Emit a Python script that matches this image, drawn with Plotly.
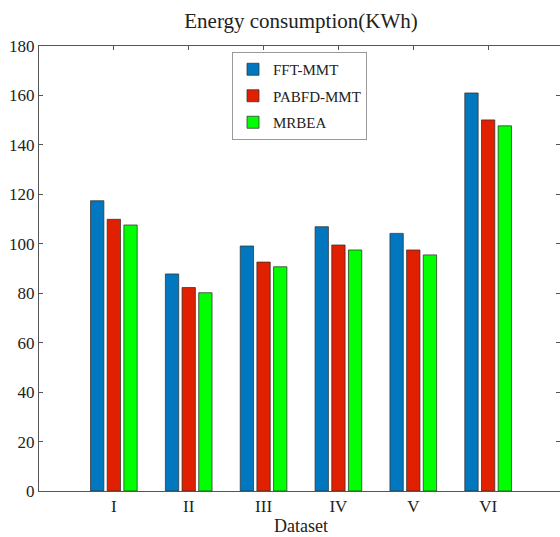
import plotly.graph_objects as go

categories = ["I", "II", "III", "IV", "V", "VI"]
positions = [1, 2, 3, 4, 5, 6]
fft_mmt = [117.4, 87.8, 99.1, 106.9, 104.2, 161.0]
pabfd_mmt = [109.9, 82.3, 92.6, 99.5, 97.5, 150.1]
mrbea = [107.6, 80.2, 90.7, 97.5, 95.5, 147.7]
y_ticks = [0, 20, 40, 60, 80, 100, 120, 140, 160, 180]

series = [
    ("FFT-MMT", fft_mmt, "#0077BE"),
    ("PABFD-MMT", pabfd_mmt, "#E02000"),
    ("MRBEA", mrbea, "#00FF00"),
]

FONT = "Liberation Serif"
L, T, B = 39, 46, 46
PW = 560 - L
PH = 537 - T - B

fig = go.Figure()
for name, vals, col in series:
    fig.add_trace(go.Bar(
        x=positions, y=vals, name=name, legendgroup=name,
        marker=dict(color=col, line=dict(color="rgba(50,50,50,0.75)", width=1)),
    ))

# invisible trace for the top/right mirrored inside ticks
fig.add_trace(go.Scatter(x=[None], y=[None], xaxis="x2", yaxis="y2",
                         showlegend=False, hoverinfo="skip"))

fig.update_layout(
    width=560, height=537,
    margin=dict(l=L, r=0, t=T, b=B),
    paper_bgcolor="white", plot_bgcolor="white",
    barmode="group", bargap=0.332, bargroupgap=0.2,
    font=dict(family=FONT, color="#222", size=16),
    title=dict(text="Energy consumption(KWh)", x=(301 - L) / PW, xref="paper",
               xanchor="center", y=1 - 21 / 537, yanchor="middle",
               font=dict(family=FONT, size=21, color="#222")),
    xaxis=dict(range=[0, 6.96], tickvals=positions, ticktext=categories,
               showline=True, linecolor="#555", linewidth=1, ticks="",
               showgrid=False, zeroline=False, tickfont=dict(size=17)),
    yaxis=dict(range=[0, 180], tickvals=y_ticks, showline=True, linecolor="#555",
               linewidth=1, ticks="inside", ticklen=4, tickcolor="#555",
               showgrid=False, zeroline=False, tickfont=dict(size=17)),
    xaxis2=dict(range=[0, 6.96], overlaying="x", side="top", tickvals=positions,
                showticklabels=False, ticks="inside", ticklen=4, tickcolor="#555",
                showline=True, linecolor="#555", linewidth=1, showgrid=False, zeroline=False),
    yaxis2=dict(range=[0, 180], overlaying="y", side="right", tickvals=y_ticks,
                showticklabels=False, ticks="inside", ticklen=4, tickcolor="#555",
                showline=False, showgrid=False, zeroline=False),
    legend=dict(x=(232 - L) / PW, y=(491 - 52) / PH, xanchor="left", yanchor="top",
                bgcolor="white", bordercolor="#999", borderwidth=1,
                font=dict(family=FONT, size=15, color="#222"),
                tracegroupgap=4, itemwidth=30),
    annotations=[dict(text="Dataset", x=(301 - L) / PW, xref="paper",
                      y=-(526 - 491) / PH, yref="paper", yanchor="middle",
                      showarrow=False, font=dict(family=FONT, size=18, color="#222"))],
)

fig.write_html("out.html", config={"displayModeBar": False},
               post_script="document.body.style.margin='0';")
